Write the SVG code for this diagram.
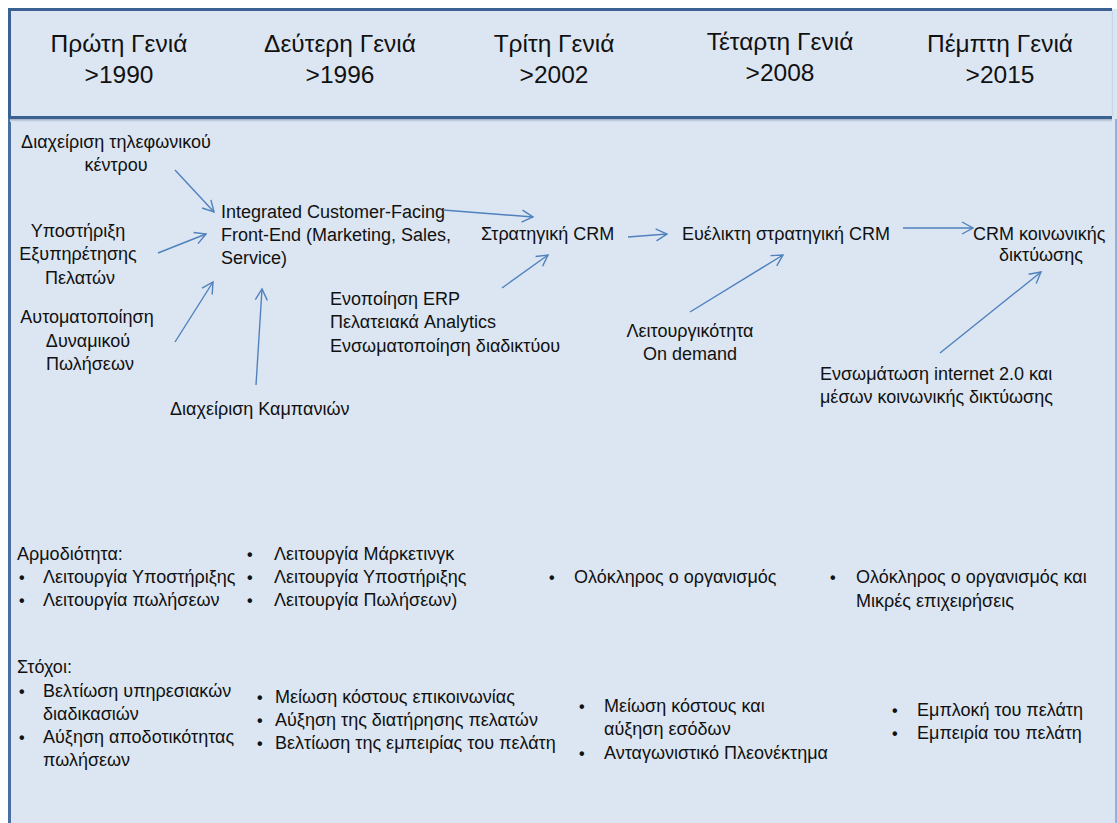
<svg xmlns="http://www.w3.org/2000/svg" width="1117" height="823" viewBox="0 0 1117 823">
  <style>
    text { font-family: "Liberation Sans", "DejaVu Sans", sans-serif; fill: #111; }
    .hd { font-size: 24.5px; text-anchor: middle; }
    .tx { font-size: 18px; }
    .bl { font-size: 16px; font-weight: bold; }
    .mid { text-anchor: middle; }
    .cn { stroke: #4f81bd; stroke-width: 1.4; fill: none; marker-end: url(#arr); }
  </style>
  <defs>
    <marker id="arr" viewBox="0 0 14 14" refX="12" refY="7" markerWidth="14" markerHeight="14" markerUnits="userSpaceOnUse" orient="auto">
      <path d="M1,1 L12,7 L1,13" fill="none" stroke="#4f81bd" stroke-width="1.4"/>
    </marker>
    <linearGradient id="shade" x1="0" y1="0" x2="0" y2="1">
      <stop offset="0" stop-color="#9fb0c6"/>
      <stop offset="1" stop-color="#dce6f2"/>
    </linearGradient>
  </defs>

  <!-- page -->
  <rect x="0" y="0" width="1117" height="823" fill="#ffffff"/>
  <rect x="9" y="9" width="1108" height="814" fill="#dce6f2"/>
  <line x1="9.5" y1="117" x2="9.5" y2="823" stroke="#4a70a3" stroke-width="3"/>
  <line x1="1116" y1="119" x2="1116" y2="823" stroke="#7ea1cc" stroke-width="1.5"/>

  <!-- header band -->
  <g id="header">
    <rect x="10" y="10" width="1102" height="107" fill="#dce6f2"/>
    <rect x="10" y="119" width="1102" height="3" fill="url(#shade)"/>
    <path d="M9.5,117.5 V9.5 H1112" fill="none" stroke="#3b6193" stroke-width="3"/>
    <line x1="9" y1="117.5" x2="1112" y2="117.5" stroke="#3b6193" stroke-width="3"/>
    <line x1="1112.5" y1="11" x2="1112.5" y2="116" stroke="#c9d7ea" stroke-width="1.5"/>
    <text class="hd" x="119" y="52">Πρώτη Γενιά</text>
    <text class="hd" x="119" y="83">&gt;1990</text>
    <text class="hd" x="340" y="52">Δεύτερη Γενιά</text>
    <text class="hd" x="340" y="83">&gt;1996</text>
    <text class="hd" x="554" y="52">Τρίτη Γενιά</text>
    <text class="hd" x="554" y="83">&gt;2002</text>
    <text class="hd" x="780" y="50">Τέταρτη Γενιά</text>
    <text class="hd" x="780" y="81">&gt;2008</text>
    <text class="hd" x="1000" y="52">Πέμπτη Γενιά</text>
    <text class="hd" x="1000" y="83">&gt;2015</text>
  </g>

  <!-- first generation sources -->
  <g id="call-centre">
    <text class="tx mid" x="116" y="148">Διαχείριση τηλεφωνικού</text>
    <text class="tx mid" x="116" y="171">κέντρου</text>
  </g>
  <g id="customer-support">
    <text class="tx mid" x="78" y="237">Υποστήριξη</text>
    <text class="tx mid" x="78" y="260">Εξυπηρέτησης</text>
    <text class="tx mid" x="80" y="284">Πελατών</text>
  </g>
  <g id="sales-automation">
    <text class="tx mid" x="87" y="323">Αυτοματοποίηση</text>
    <text class="tx mid" x="88" y="347">Δυναμικού</text>
    <text class="tx mid" x="90" y="370">Πωλήσεων</text>
  </g>
  <g id="campaigns">
    <text class="tx" x="170" y="415">Διαχείριση Καμπανιών</text>
  </g>

  <!-- second generation -->
  <g id="integrated-front-end">
    <text class="tx" x="221" y="218">Integrated Customer-Facing</text>
    <text class="tx" x="221" y="241">Front-End (Marketing, Sales,</text>
    <text class="tx" x="221" y="264">Service)</text>
  </g>

  <!-- third generation -->
  <g id="strategic-crm">
    <text class="tx" x="481" y="240">Στρατηγική CRM</text>
  </g>
  <g id="erp-analytics">
    <text class="tx" x="330" y="305">Ενοποίηση ERP</text>
    <text class="tx" x="330" y="328">Πελατειακά Analytics</text>
    <text class="tx" x="330" y="352">Ενσωματοποίηση διαδικτύου</text>
  </g>

  <!-- fourth generation -->
  <g id="agile-crm">
    <text class="tx" x="682" y="240">Ευέλικτη στρατηγική CRM</text>
  </g>
  <g id="on-demand">
    <text class="tx mid" x="690" y="337">Λειτουργικότητα</text>
    <text class="tx mid" x="690" y="360">On demand</text>
  </g>

  <!-- fifth generation -->
  <g id="social-crm">
    <text class="tx" x="973" y="240">CRM κοινωνικής</text>
    <text class="tx mid" x="1041" y="261">δικτύωσης</text>
  </g>
  <g id="web2-social">
    <text class="tx" x="820" y="380">Ενσωμάτωση internet 2.0 και</text>
    <text class="tx" x="820" y="403">μέσων κοινωνικής δικτύωσης</text>
  </g>

  <!-- connectors -->
  <g id="connectors">
    <line class="cn" x1="175" y1="170" x2="214" y2="212"/>
    <line class="cn" x1="158" y1="253" x2="206" y2="234"/>
    <line class="cn" x1="175" y1="342" x2="213" y2="282"/>
    <line class="cn" x1="256" y1="385" x2="262" y2="289"/>
    <line class="cn" x1="443" y1="210" x2="533" y2="217"/>
    <line class="cn" x1="502" y1="288" x2="548" y2="255"/>
    <line class="cn" x1="628" y1="237" x2="667" y2="234"/>
    <line class="cn" x1="690" y1="312" x2="783" y2="255"/>
    <line class="cn" x1="903" y1="228" x2="973" y2="228"/>
    <line class="cn" x1="940" y1="353" x2="1041" y2="272"/>
  </g>

  <!-- scope row -->
  <g id="scope-1">
    <text class="tx" x="17" y="560">Αρμοδιότητα:</text>
    <text class="bl" x="19" y="583">•</text>
    <text class="tx" x="43" y="583">Λειτουργία Υποστήριξης</text>
    <text class="bl" x="19" y="606">•</text>
    <text class="tx" x="43" y="606">Λειτουργία πωλήσεων</text>
  </g>
  <g id="scope-2">
    <text class="bl" x="247" y="560">•</text>
    <text class="tx" x="274" y="560">Λειτουργία Μάρκετινγκ</text>
    <text class="bl" x="247" y="583">•</text>
    <text class="tx" x="274" y="583">Λειτουργία Υποστήριξης</text>
    <text class="bl" x="247" y="606">•</text>
    <text class="tx" x="274" y="606">Λειτουργία Πωλήσεων)</text>
  </g>
  <g id="scope-3">
    <text class="bl" x="549" y="583">•</text>
    <text class="tx" x="574" y="583">Ολόκληρος ο οργανισμός</text>
  </g>
  <g id="scope-4">
    <text class="bl" x="830" y="583">•</text>
    <text class="tx" x="856" y="583">Ολόκληρος ο οργανισμός και</text>
    <text class="tx" x="856" y="607">Μικρές επιχειρήσεις</text>
  </g>

  <!-- goals row -->
  <g id="goals-1">
    <text class="tx" x="17" y="673">Στόχοι:</text>
    <text class="bl" x="19" y="697">•</text>
    <text class="tx" x="43" y="697">Βελτίωση υπηρεσιακών</text>
    <text class="tx" x="43" y="720">διαδικασιών</text>
    <text class="bl" x="19" y="743">•</text>
    <text class="tx" x="43" y="743">Αύξηση αποδοτικότητας</text>
    <text class="tx" x="43" y="766">πωλήσεων</text>
  </g>
  <g id="goals-2">
    <text class="bl" x="257" y="703">•</text>
    <text class="tx" x="275" y="703">Μείωση κόστους επικοινωνίας</text>
    <text class="bl" x="257" y="726">•</text>
    <text class="tx" x="275" y="726">Αύξηση της διατήρησης πελατών</text>
    <text class="bl" x="257" y="749">•</text>
    <text class="tx" x="275" y="749">Βελτίωση της εμπειρίας του πελάτη</text>
  </g>
  <g id="goals-3">
    <text class="bl" x="579" y="712">•</text>
    <text class="tx" x="604" y="712">Μείωση κόστους και</text>
    <text class="tx" x="604" y="735">αύξηση εσόδων</text>
    <text class="bl" x="579" y="759">•</text>
    <text class="tx" x="604" y="759">Ανταγωνιστικό Πλεονέκτημα</text>
  </g>
  <g id="goals-4">
    <text class="bl" x="892" y="716">•</text>
    <text class="tx" x="917" y="716">Εμπλοκή του πελάτη</text>
    <text class="bl" x="892" y="739">•</text>
    <text class="tx" x="917" y="739">Εμπειρία του πελάτη</text>
  </g>
</svg>
